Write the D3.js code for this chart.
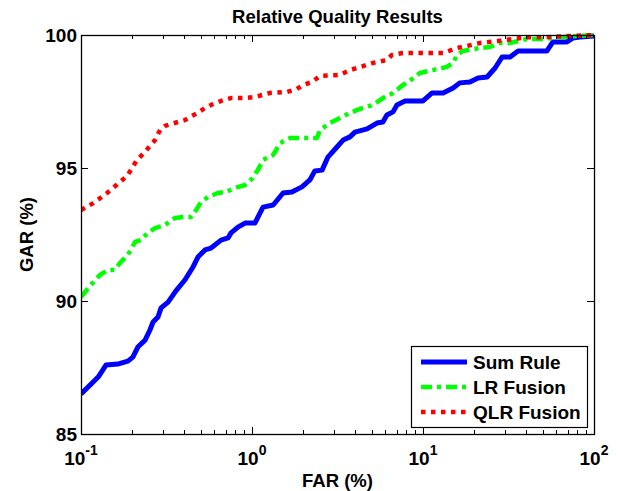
<!DOCTYPE html>
<html>
<head>
<meta charset="utf-8">
<script src="https://cdn.jsdelivr.net/npm/d3@7"></script>
<style>
body { margin: 0; background: white; }
text { font-family: "Liberation Sans", Arial, sans-serif; font-weight: bold; fill: black; }
</style>
</head>
<body>
<script>
/* Data: [FAR (%), GAR (%)] */
var sumRule = [
	[0.100, 86.50], [0.110, 86.77], [0.126, 87.14], [0.140, 87.59], [0.164, 87.63], [0.188, 87.74],
	[0.201, 87.89], [0.215, 88.27], [0.237, 88.53], [0.253, 88.91], [0.264, 89.21], [0.282, 89.40],
	[0.294, 89.74], [0.323, 89.96], [0.359, 90.38], [0.405, 90.79], [0.452, 91.28], [0.483, 91.65],
	[0.531, 91.92], [0.576, 91.99], [0.659, 92.29], [0.724, 92.37], [0.754, 92.56], [0.828, 92.78],
	[0.910, 92.93], [1.04, 92.93], [1.16, 93.53], [1.33, 93.61], [1.52, 94.06], [1.71, 94.10],
	[1.96, 94.29], [2.18, 94.55], [2.33, 94.89], [2.57, 94.92], [2.78, 95.41], [3.14, 95.79],
	[3.41, 96.05], [3.74, 96.17], [4.00, 96.35], [4.71, 96.47], [5.38, 96.69], [5.83, 96.73],
	[6.15, 96.99], [6.68, 97.11], [7.04, 97.37], [7.85, 97.52], [10.0, 97.52], [11.3, 97.82],
	[13.1, 97.82], [15.0, 98.01], [16.4, 98.20], [18.8, 98.23], [21.0, 98.38], [23.7, 98.42],
	[26.4, 98.76], [29.0, 99.17], [32.3, 99.17], [36.0, 99.40], [53.1, 99.40], [57.5, 99.74],
	[69.5, 99.74], [75.4, 99.89], [82.8, 99.92], [100, 99.96]
];
var lrFusion = [
	[0.100, 90.15], [0.114, 90.60], [0.129, 90.98], [0.144, 91.17], [0.158, 91.17], [0.169, 91.43],
	[0.183, 91.65], [0.196, 91.92], [0.207, 92.22], [0.224, 92.29], [0.246, 92.56], [0.271, 92.74],
	[0.310, 92.86], [0.354, 93.12], [0.405, 93.16], [0.440, 93.16], [0.471, 93.42], [0.503, 93.72],
	[0.553, 93.91], [0.632, 94.06], [0.705, 94.10], [0.796, 94.25], [0.910, 94.36], [1.01, 94.62],
	[1.08, 94.92], [1.16, 95.30], [1.33, 95.49], [1.46, 95.94], [1.67, 96.13], [2.40, 96.13],
	[2.50, 96.43], [2.86, 96.69], [3.27, 96.88], [3.74, 97.07], [4.28, 97.22], [5.10, 97.37],
	[5.83, 97.63], [6.68, 97.82], [7.63, 98.12], [8.17, 98.23], [9.59, 98.57], [11.4, 98.68],
	[13.8, 98.80], [15.0, 98.95], [15.8, 99.25], [17.1, 99.40], [21.5, 99.51], [24.7, 99.55],
	[28.2, 99.70], [32.3, 99.70], [40.6, 99.85], [50.4, 99.85], [63.2, 99.92], [79.6, 99.96],
	[100, 100]
];
var qlrFusion = [
	[0.100, 93.42], [0.118, 93.68], [0.142, 94.06], [0.164, 94.40], [0.186, 94.70], [0.201, 95.04],
	[0.212, 95.30], [0.237, 95.60], [0.253, 95.83], [0.271, 96.05], [0.290, 96.43], [0.310, 96.58],
	[0.336, 96.65], [0.369, 96.73], [0.405, 96.80], [0.434, 96.92], [0.483, 97.07], [0.531, 97.26],
	[0.576, 97.37], [0.659, 97.52], [0.754, 97.63], [0.910, 97.63], [1.04, 97.67], [1.27, 97.82],
	[1.60, 97.86], [1.83, 97.97], [1.99, 98.12], [2.24, 98.23], [2.50, 98.46], [3.27, 98.50],
	[3.74, 98.68], [4.46, 98.83], [5.10, 98.95], [6.15, 99.06], [6.58, 99.25], [7.63, 99.32],
	[13.1, 99.32], [15.8, 99.51], [18.1, 99.59], [21.5, 99.70], [27.1, 99.77], [33.6, 99.85],
	[42.3, 99.92], [53.1, 99.92], [69.5, 99.96], [100, 100]
];
var seriesNames = ["Sum Rule", "LR Fusion", "QLR Fusion"];
var xTickExponents = [-1, 0, 1, 2];
var yTickValues = [85, 90, 95, 100];

/* Display setup */
var displayArea = {width: 618, height: 491},
	plot = {left: 81, top: 35, right: 594, bottom: 434},
	svg = d3.select("body").append("svg")
		.attr("width", displayArea.width)
		.attr("height", displayArea.height),
	x = d3.scaleLog().domain([0.1, 100]).range([plot.left, plot.right]),
	y = d3.scaleLinear().domain([85, 100]).range([plot.bottom, plot.top]);

var styles = [ // line look per series
	{color: "#0000ff", width: 5, dash: null},
	{color: "#00ff00", width: 4.5, dash: "11,5,4,5"},
	{color: "#ff0000", width: 4.5, dash: "4.5,5.5"}
];

svg.append("rect")
	.attr("x", plot.left).attr("y", plot.top)
	.attr("width", plot.right - plot.left).attr("height", plot.bottom - plot.top)
	.style("fill", "white");

svg.append("clipPath").attr("id", "plotClip")
	.append("rect")
	.attr("x", plot.left).attr("y", plot.top - 2)
	.attr("width", plot.right - plot.left).attr("height", plot.bottom - plot.top + 2);

/* Curves */
var line = d3.line()
	.x(function(d) { return x(d[0]); })
	.y(function(d) { return y(d[1]); });

var curves = svg.append("g").attr("clip-path", "url(#plotClip)");
[sumRule, lrFusion, qlrFusion].forEach(function(data, i) {
	curves.append("path")
		.datum(data)
		.attr("d", line)
		.style("fill", "none")
		.style("stroke", styles[i].color)
		.style("stroke-width", styles[i].width)
		.style("stroke-linejoin", "round")
		.style("stroke-dasharray", styles[i].dash);
});

/* Axes, MATLAB style box with inward ticks */
var xMinor = [];
for (var e = -1; e < 2; e++) {
	for (var m = 2; m < 10; m++) xMinor.push(m * Math.pow(10, e));
}
var xMajor = xTickExponents.map(function(p) { return Math.pow(10, p); });

var axes = svg.append("g").style("stroke", "black").style("stroke-width", 1);
axes.selectAll("line.xminor")
	.data(xMinor.concat(xMinor.map(function(v) { return -v; })))
	.enter().append("line")
	.attr("x1", function(d) { return Math.round(x(Math.abs(d))) + 0.5; })
	.attr("x2", function(d) { return Math.round(x(Math.abs(d))) + 0.5; })
	.attr("y1", function(d) { return d > 0 ? plot.bottom : plot.top; })
	.attr("y2", function(d) { return d > 0 ? plot.bottom - 4 : plot.top + 4; });
axes.selectAll("line.xmajor")
	.data(xMajor.concat(xMajor.map(function(v) { return -v; })))
	.enter().append("line")
	.attr("x1", function(d) { return Math.round(x(Math.abs(d))) + 0.5; })
	.attr("x2", function(d) { return Math.round(x(Math.abs(d))) + 0.5; })
	.attr("y1", function(d) { return d > 0 ? plot.bottom : plot.top; })
	.attr("y2", function(d) { return d > 0 ? plot.bottom - 7 : plot.top + 7; });
axes.selectAll("line.ymajor")
	.data(yTickValues.concat(yTickValues.map(function(v) { return -v; })))
	.enter().append("line")
	.attr("y1", function(d) { return Math.round(y(Math.abs(d))) + 0.5; })
	.attr("y2", function(d) { return Math.round(y(Math.abs(d))) + 0.5; })
	.attr("x1", function(d) { return d > 0 ? plot.left : plot.right; })
	.attr("x2", function(d) { return d > 0 ? plot.left + 7 : plot.right - 7; });

svg.append("rect")
	.attr("x", plot.left + 0.5).attr("y", plot.top + 0.5)
	.attr("width", plot.right - plot.left).attr("height", plot.bottom - plot.top)
	.style("fill", "none").style("stroke", "black").style("stroke-width", 1.3);

/* Tick labels */
svg.selectAll("text.ylab")
	.data(yTickValues)
	.enter().append("text")
	.attr("x", plot.left - 4)
	.attr("y", function(d) { return y(d) + 7; })
	.attr("text-anchor", "end")
	.style("font-size", "19px")
	.text(function(d) { return d; });

var xlab = svg.selectAll("text.xlab")
	.data(xTickExponents)
	.enter().append("text")
	.attr("x", function(d) { return x(Math.pow(10, d)); })
	.attr("y", 465)
	.attr("text-anchor", "middle")
	.style("font-size", "19px");
xlab.append("tspan").text("10");
xlab.append("tspan")
	.attr("dy", -10)
	.style("font-size", "14px")
	.text(function(d) { return d; });

/* Title and axis labels */
svg.append("text")
	.attr("x", (plot.left + plot.right) / 2).attr("y", 23)
	.attr("text-anchor", "middle")
	.style("font-size", "18.5px")
	.text("Relative Quality Results");
svg.append("text")
	.attr("x", (plot.left + plot.right) / 2).attr("y", 487)
	.attr("text-anchor", "middle")
	.style("font-size", "18.5px")
	.text("FAR (%)");
svg.append("text")
	.attr("transform", "translate(33," + (plot.top + plot.bottom) / 2 + ") rotate(-90)")
	.attr("text-anchor", "middle")
	.style("font-size", "18.5px")
	.text("GAR (%)");

/* Legend */
var legend = svg.append("g").attr("transform", "translate(411,346)");
legend.append("rect")
	.attr("x", 0.5).attr("y", 0.5).attr("width", 176).attr("height", 81)
	.style("fill", "white").style("stroke", "black").style("stroke-width", 1.2);
seriesNames.forEach(function(name, i) {
	var ly = 16 + i * 25;
	legend.append("line")
		.attr("x1", 10).attr("x2", 56).attr("y1", ly).attr("y2", ly)
		.style("stroke", styles[i].color)
		.style("stroke-width", styles[i].width)
		.style("stroke-dasharray", styles[i].dash);
	legend.append("text")
		.attr("x", 62).attr("y", ly + 7)
		.style("font-size", "19px")
		.text(name);
});
</script>
</body>
</html>
